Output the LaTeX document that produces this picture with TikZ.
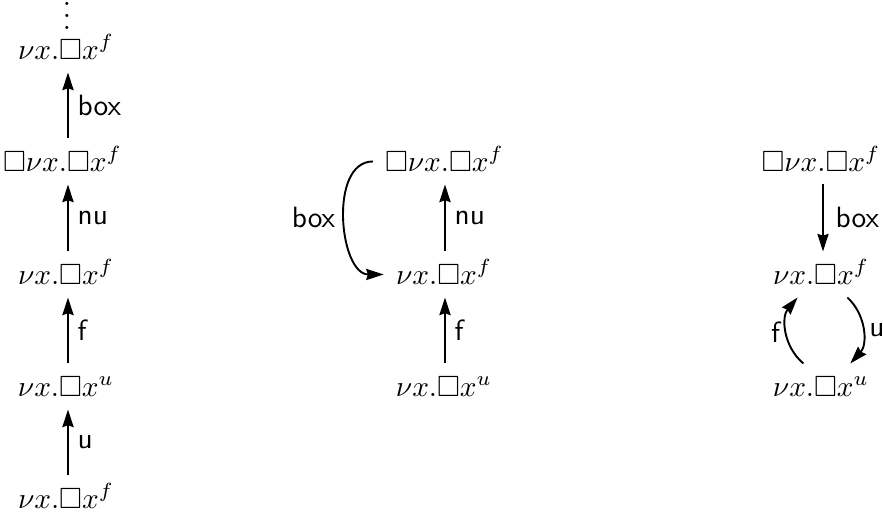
\documentclass[tikz,border=0pt]{standalone}
\usepackage{amssymb}
\usetikzlibrary{arrows.meta}
\begin{document}
\begin{tikzpicture}[x=0.3413pt,y=-0.3413pt,
  term/.style={anchor=base, inner xsep=4pt, inner ysep=2pt, text height=8.9pt, text depth=2.4pt},
  arr/.style={line width=0.65pt, -{Stealth[length=6pt,width=3.8pt,inset=0.6pt]}},
  lab/.style={font=\sffamily, inner sep=3pt}]
\useasboundingbox (0,0) rectangle (883,517);
% column coordinates for straight arrows
\coordinate (colL) at (68,0);
\coordinate (colM) at (445,0);
\coordinate (colR) at (823,0);
% left column
\node[anchor=south, inner sep=0pt] (dots) at (67,30) {$\vdots$};
\node[term] (l1) at (66,59) {$\nu x.\Box x^f$};
\node[term] (l2) at (62.5,171) {$\Box\nu x.\Box x^f$};
\node[term] (l3) at (66,284) {$\nu x.\Box x^f$};
\node[term] (l4) at (66,396) {$\nu x.\Box x^u$};
\node[term] (l5) at (66,508) {$\nu x.\Box x^f$};
\draw[arr] (l2.north -| colL) -- node[lab, right] {box} (l1.south -| colL);
\draw[arr] (l3.north -| colL) -- node[lab, right] {nu} (l2.south -| colL);
\draw[arr] (l4.north -| colL) -- node[lab, right] {f} (l3.south -| colL);
\draw[arr] (l5.north -| colL) -- node[lab, right] {u} (l4.south -| colL);
% middle column
\node[term] (m1) at (444.5,171) {$\Box\nu x.\Box x^f$};
\node[term] (m2) at (444,284) {$\nu x.\Box x^f$};
\node[term] (m3) at (444,396) {$\nu x.\Box x^u$};
\draw[arr] (m2.north -| colM) -- node[lab, right] {nu} (m1.south -| colM);
\draw[arr] (m3.north -| colM) -- node[lab, right] {f} (m2.south -| colM);
\draw[arr] (m1.west) to[out=180, in=180] node[lab, left] {box} (m2.west);
% right column
\node[term] (r1) at (821,171) {$\Box\nu x.\Box x^f$};
\node[term] (r2) at (821,284) {$\nu x.\Box x^f$};
\node[term] (r3) at (821,396) {$\nu x.\Box x^u$};
\draw[arr] (r1.south -| colR) -- node[lab, right, xshift=1pt] {box} (r2.north -| colR);
\draw[arr] ([xshift=-6pt]r3.north) to[bend left=45] node[lab, left, inner sep=2pt] {f} ([xshift=-8pt]r2.south);
\draw[arr] ([xshift=9pt]r2.south) to[bend left=45] node[lab, right, inner sep=2pt] {u} ([xshift=10pt]r3.north);
\end{tikzpicture}
\end{document}
